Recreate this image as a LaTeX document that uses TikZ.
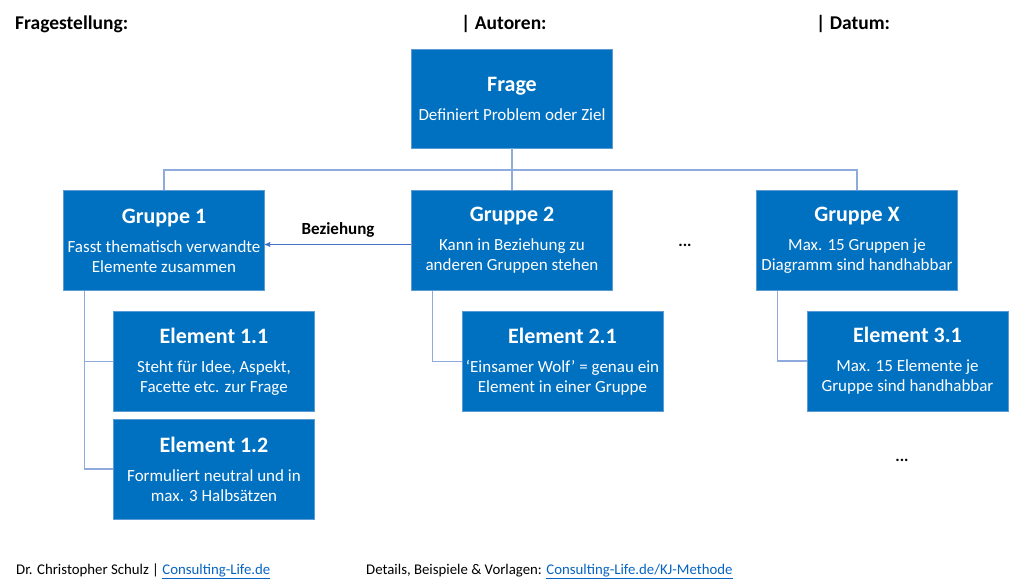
\documentclass[tikz,border=0pt]{standalone}
\usepackage{fontspec}
\setmainfont{Carlito}
\usepackage{tikz}
\usetikzlibrary{arrows,positioning}
\definecolor{boxblue}{HTML}{0070C0}
\definecolor{boxrim}{HTML}{5B9BD5}
\definecolor{linegrey}{HTML}{8FAADC}
\definecolor{relblue}{HTML}{4472C4}
\definecolor{linkblue}{HTML}{0563C1}
\newcommand{\boxtitle}[1]{{\fontsize{22}{26}\selectfont\bfseries #1}\\[9pt]}
\newcommand{\weblink}[1]{\textcolor{linkblue}{\underline{#1}}}
\tikzset{
  kjbox/.style = {rectangle, fill=boxblue, draw=boxrim, line width=0.6pt,
    text=white, align=center, inner sep=0pt, minimum width=201pt,
    minimum height=100pt, font=\fontsize{17}{20}\selectfont},% Frage, Gruppe, Element
  kjline/.style = {draw=linegrey, line width=1.4pt},% Baumlinien
  kjhead/.style = {anchor=base west, inner sep=0pt,
    font=\fontsize{19.5}{23}\selectfont\bfseries},% Kopfzeile
  kjfoot/.style = {anchor=base west, inner sep=0pt,
    font=\fontsize{14.8}{17}\selectfont},% Fusszeile
  kjdots/.style = {inner sep=0pt, font=\fontsize{16.5}{20}\selectfont\bfseries}
}

\begin{document}
\begin{tikzpicture}[>=stealth', x=1pt, y=-1pt]
\useasboundingbox (0,0) rectangle (1024,588);
% Kopfzeile
\node [kjhead] (frst) at (15,30) {Fragestellung:};
\node [kjhead] (autor) at (461,30) {| Autoren:};
\node [kjhead] (datum) at (816,30) {| Datum:};
% Frage und Gruppen
\node [kjbox, minimum height=99pt] (frage) at (512,98.5)
  {\boxtitle{Frage}Definiert Problem oder Ziel};
\node [kjbox] (g1) at (164,240.5)
  {\boxtitle{Gruppe 1}Fasst thematisch verwandte\\Elemente zusammen};
\node [kjbox] (g2) at (512,240.5)
  {\boxtitle{Gruppe 2}Kann in Beziehung zu\\anderen Gruppen stehen};
\node [kjbox] (gx) at (857,240.5)
  {\boxtitle{Gruppe X}Max. 15 Gruppen je\\Diagramm sind handhabbar};
% Elemente
\node [kjbox] (e11) at (214,361.5)
  {\boxtitle{Element 1.1}Steht f\"ur Idee, Aspekt,\\Facette etc. zur Frage};
\node [kjbox, below=7pt of e11] (e12)
  {\boxtitle{Element 1.2}Formuliert neutral und in\\max. 3 Halbs\"atzen};
\node [kjbox] (e21) at (562.5,361.5)
  {\boxtitle{Element 2.1}`Einsamer Wolf' = genau ein\\Element in einer Gruppe};
\node [kjbox] (e31) at (907.5,361)
  {\boxtitle{Element 3.1}Max. 15 Elemente je\\Gruppe sind handhabbar};
\node [kjdots] (dots1) at (685,245) {...};
\node [kjdots] (dots2) at (902,460) {...};
% Verbindungen
\coordinate (bus) at (512,170);
\draw [kjline] (frage.south) -- (bus);
\draw [kjline] (g1.north) |- (bus) -| (gx.north);
\draw [kjline] (bus) -- (g2.north);
\draw [kjline] ([xshift=21pt]g1.south west) |- (e11.west);
\draw [kjline] ([xshift=21pt]g1.south west) |- (e12.west);
\draw [kjline] ([xshift=21pt]g2.south west) |- (e21.west);
\draw [kjline] ([xshift=21pt]gx.south west) |- (e31.west);
\draw [->, relblue, line width=1pt] ([yshift=-4pt]g2.west) -- ([yshift=-4pt]g1.east)
  node [midway, above=3pt, black, font=\fontsize{17}{20}\selectfont\bfseries] (bez) {Beziehung};
% Fusszeile
\node [kjfoot] (autorname) at (16,574) {Dr. Christopher Schulz | \weblink{Consulting-Life.de}};
\node [kjfoot] (details) at (366,574) {Details, Beispiele \& Vorlagen: \weblink{Consulting-Life.de/KJ-Methode}};
\end{tikzpicture}
\end{document}
